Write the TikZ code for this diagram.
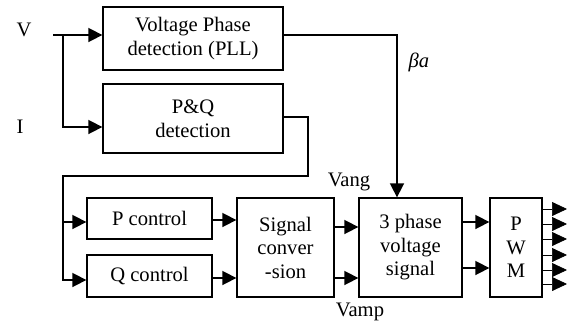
\documentclass[tikz,border=0pt]{standalone}
\usepackage{fontspec}
\setmainfont{Liberation Serif}
\usepackage{tikz}
\usetikzlibrary{arrows.meta, positioning}

\begin{document}
\begin{tikzpicture}[
    x=1pt, y=-1pt,
    font=\fontsize{20.6}{23.5}\selectfont,
    box/.style={draw, line width=1.3pt, inner sep=0pt, align=center},
    arr/.style={-{Triangle[length=14pt, width=14pt]}, line width=1.6pt},
    outarr/.style={-{Triangle[length=15pt, width=14pt]}, line width=0.7pt},
    lbl/.style={inner sep=0pt},
  ]
    \useasboundingbox (0,0) rectangle (571,327);

    \node[box, minimum width=180pt, minimum height=63pt] (vpd) at (193,38.5) {Voltage Phase\\detection (PLL)};
    \node[box, minimum width=180pt, minimum height=69pt] (pq) at (193,118.5) {P\&Q\\detection};
    \node[box, minimum width=125pt, minimum height=41pt] (pc) at (149.5,218.5) {P control};
    \node[box, minimum width=125pt, minimum height=42pt] (qc) at (149.5,276) {Q control};
    \node[box, minimum width=97pt, minimum height=99pt] (sig) at (285.5,247.5) {Signal\\conver\\-sion};
    \node[box, minimum width=103pt, minimum height=99pt] (tph) at (410.5,247.5) {3 phase\\voltage\\signal};
    \node[box, minimum width=52pt, minimum height=99pt] (pwm) at (516,247.5) {P\\W\\M};

    \node[lbl] (vtxt) at (24,30) {V};
    \node[lbl] (itxt) at (20,127) {I};
    \node[lbl] (beta) at (419,62) {\textit{βa}};
    \node[lbl] (vang) at (349,182) {Vang};
    \node[lbl] (vamp) at (360,312) {Vamp};

    \coordinate (vin) at (53,35);
    \coordinate (vbr) at (63,35);
    \coordinate (fb) at (63,176);

    % inputs
    \draw[arr] (vin) -- (vin -| vpd.west);
    \draw[arr] (vbr) |- ([yshift=-8.5pt]pq.west);

    % phase angle
    \draw[arr] ([yshift=3.5pt]vpd.east) -| ([xshift=-13.5pt]tph.north);

    % power feedback
    \draw[line width=1.6pt] ([yshift=1.5pt]pq.east) -| (308,176) -- (fb) -- (63,281);
    \draw[arr] (63,222) -- (63,222 -| pc.west);
    \draw[arr] (63,280) -- (63,280 -| qc.west);

    \draw[arr] ([yshift=-1.5pt]pc.east) -- ([yshift=-1.5pt]pc.east -| sig.west);
    \draw[arr] ([yshift=-2pt]qc.east) -- ([yshift=-2pt]qc.east -| sig.west);
    \draw[arr] ([yshift=20.5pt]sig.east) -- ([yshift=20.5pt]sig.east -| tph.west);
    \draw[arr] ([yshift=-30.5pt]sig.east) -- ([yshift=-30.5pt]sig.east -| tph.west);
    \draw[arr] ([yshift=25.5pt]tph.east) -- ([yshift=25.5pt]tph.east -| pwm.west);
    \draw[arr] ([yshift=-20.5pt]tph.east) -- ([yshift=-20.5pt]tph.east -| pwm.west);

    % PWM outputs
    \foreach \yy in {209,224,239,255,270,284}
      \draw[outarr] (pwm.east |- 0,\yy) -- (567,\yy);
  \end{tikzpicture}
\end{document}
